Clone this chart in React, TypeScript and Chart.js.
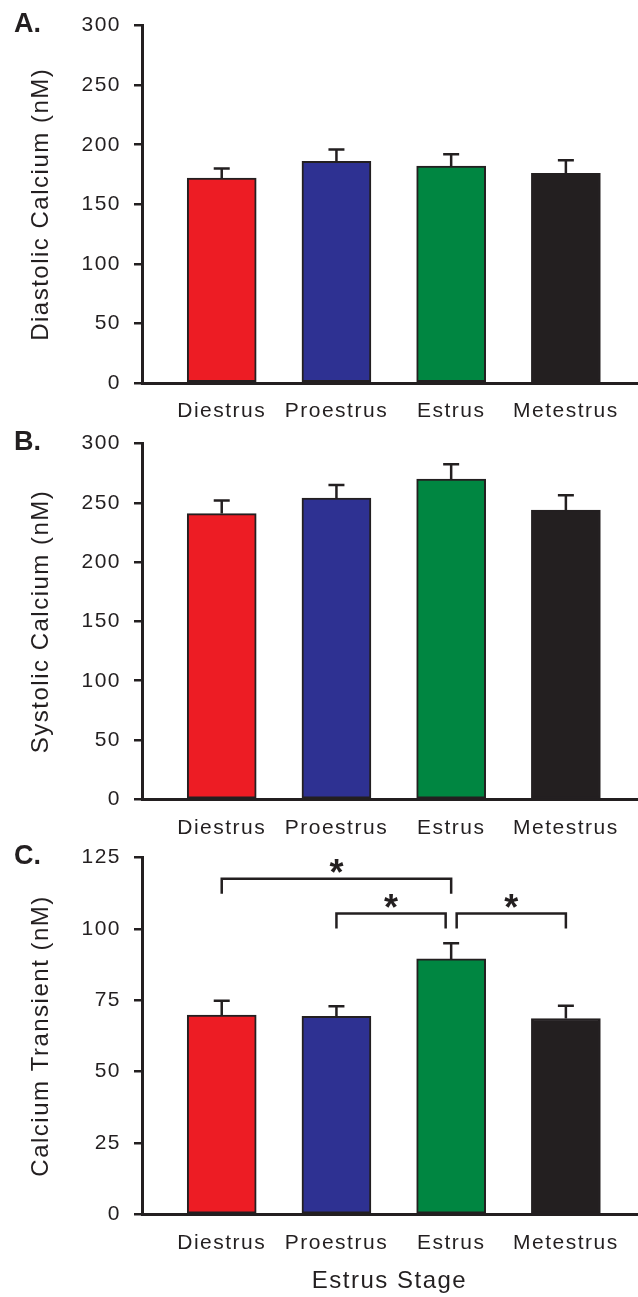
import React, { useEffect, useRef } from "react";
import { Chart, registerables } from "chart.js";

Chart.register(...registerables);

// ---------- data ----------
const CATEGORIES = ["Diestrus", "Proestrus", "Estrus", "Metestrus"];
const BAR_COLORS = ["#ed1c24", "#2e3192", "#008641", "#231f20"];

const DIASTOLIC = [172, 186, 182, 176];
const DIASTOLIC_SEM = [8, 10, 10, 11];

const SYSTOLIC = [241, 254, 270, 244];
const SYSTOLIC_SEM = [11, 11, 12.5, 12.5];

const TRANSIENT = [69.8, 69.4, 89.5, 68.6];
const TRANSIENT_SEM = [5, 3.5, 5.5, 4.5];

// significance brackets (panel C), in category units / nM
const BRACKET_START = [1, 2, 3.048];
const BRACKET_END = [3, 2.952, 4];
const BRACKET_LEVEL = [117.6, 105.4, 105.4];
const BRACKET_MARK = ["*", "*", "*"];

// ---------- style ----------
const INK = "#231f20";
const FONT = "'Liberation Sans', Arial, sans-serif";
const X_MIN = 0.305;
const X_MAX = 4.62;

type PanelCfg = {
  letter: string;
  yTitle: string;
  xTitle?: string;
  values: number[];
  sem: number[];
  yMax: number;
  step: number;
  canvasTop: number;
  canvasHeight: number;
  areaTop: number;
  areaBottom: number;
  brackets?: boolean;
};

const PANELS: PanelCfg[] = [
  {
    letter: "A.",
    yTitle: "Diastolic Calcium (nM)",
    values: DIASTOLIC,
    sem: DIASTOLIC_SEM,
    yMax: 300,
    step: 50,
    canvasTop: 0,
    canvasHeight: 440,
    areaTop: 22,
    areaBottom: 383,
  },
  {
    letter: "B.",
    yTitle: "Systolic Calcium (nM)",
    values: SYSTOLIC,
    sem: SYSTOLIC_SEM,
    yMax: 300,
    step: 50,
    canvasTop: 418,
    canvasHeight: 440,
    areaTop: 436,
    areaBottom: 799.3,
  },
  {
    letter: "C.",
    yTitle: "Calcium Transient (nM)",
    xTitle: "Estrus Stage",
    values: TRANSIENT,
    sem: TRANSIENT_SEM,
    yMax: 125,
    step: 25,
    canvasTop: 832,
    canvasHeight: 465,
    areaTop: 853.3,
    areaBottom: 1214.3,
    brackets: true,
  },
];

function makeDecor(cfg: PanelCfg) {
  return {
    id: "decor" + cfg.letter,
    beforeDraw(chart: any) {
      (chart.ctx as any).letterSpacing = "1.5px";
    },
    afterDatasetsDraw(chart: any) {
      const ctx = chart.ctx;
      const xs = chart.scales.x;
      const ys = chart.scales.y;
      const meta = chart.getDatasetMeta(0);
      ctx.save();
      ctx.strokeStyle = INK;
      ctx.lineWidth = 2.5;
      ctx.lineCap = "butt";
      // error bars (upper only)
      meta.data.forEach((el: any, i: number) => {
        const x = el.x;
        const top = el.y;
        const capY = ys.getPixelForValue(cfg.values[i] + cfg.sem[i]);
        ctx.beginPath();
        ctx.moveTo(x, top);
        ctx.lineTo(x, capY);
        ctx.moveTo(x - 8, capY);
        ctx.lineTo(x + 8, capY);
        ctx.stroke();
      });
      // significance brackets
      if (cfg.brackets) {
        ctx.font = "bold 36px " + FONT;
        (ctx as any).letterSpacing = "0px";
        ctx.fillStyle = INK;
        ctx.textAlign = "center";
        ctx.textBaseline = "alphabetic";
        BRACKET_START.forEach((s, i) => {
          const x1 = xs.getPixelForValue(s);
          const x2 = xs.getPixelForValue(BRACKET_END[i]);
          const y = ys.getPixelForValue(BRACKET_LEVEL[i]);
          ctx.beginPath();
          ctx.moveTo(x1, y + 15);
          ctx.lineTo(x1, y);
          ctx.lineTo(x2, y);
          ctx.lineTo(x2, y + 15);
          ctx.stroke();
          const m = ctx.measureText(BRACKET_MARK[i]);
          const asc = m.actualBoundingBoxAscent;
          const desc = m.actualBoundingBoxDescent;
          const cy = y - 13;
          ctx.fillText(BRACKET_MARK[i], (x1 + x2) / 2, cy + (asc - desc) / 2);
        });
      }
      // panel letter
      ctx.font = "bold 27px " + FONT;
      (ctx as any).letterSpacing = "0px";
      ctx.fillStyle = INK;
      ctx.textAlign = "left";
      ctx.textBaseline = "alphabetic";
      ctx.fillText(cfg.letter, 14, chart.chartArea.top + 6);
      ctx.restore();
    },
  };
}

function Panel({ cfg }: { cfg: PanelCfg }) {
  const ref = useRef<HTMLCanvasElement>(null);
  useEffect(() => {
    const canvas = ref.current!;
    const padTop = cfg.areaTop - cfg.canvasTop;
    const xHeight = cfg.canvasTop + cfg.canvasHeight - cfg.areaBottom;
    const chart = new Chart(canvas, {
      type: "bar",
      data: {
        datasets: [
          {
            data: cfg.values.map((v, i) => ({ x: i + 1, y: v })),
            backgroundColor: BAR_COLORS,
            borderColor: INK,
            borderWidth: 2,
            borderSkipped: false,
            barThickness: 69,
          } as any,
        ],
      },
      options: {
        responsive: false,
        animation: false,
        events: [],
        layout: { padding: { top: padTop, left: 0, right: 1, bottom: 0 } },
        plugins: {
          legend: { display: false },
          tooltip: { enabled: false },
        },
        scales: {
          x: {
            type: "linear",
            offset: false,
            min: X_MIN,
            max: X_MAX,
            grid: { display: false, drawTicks: false, offset: false },
            border: { display: true, color: INK, width: 3 },
            afterBuildTicks: (s: any) => {
              s.ticks = CATEGORIES.map((_, i) => ({ value: i + 1 }));
            },
            afterFit: (s: any) => {
              s.height = xHeight;
            },
            ticks: {
              autoSkip: false,
              maxRotation: 0,
              minRotation: 0,
              padding: 16,
              color: INK,
              font: { family: FONT, size: 21 },
              callback: (v: any) => CATEGORIES[Math.round(Number(v)) - 1] ?? "",
            },
            title: {
              display: !!cfg.xTitle,
              text: cfg.xTitle || "",
              color: INK,
              font: { family: FONT, size: 24 },
              padding: { top: 0, bottom: 1 },
            },
          },
          y: {
            min: 0,
            max: cfg.yMax,
            afterFit: (s: any) => {
              s.width = 142;
            },
            grid: {
              drawOnChartArea: false,
              drawTicks: true,
              tickLength: 8,
              color: INK,
              lineWidth: 2.5,
            },
            border: { display: true, color: INK, width: 3 },
            ticks: {
              stepSize: cfg.step,
              padding: 13,
              color: INK,
              font: { family: FONT, size: 21 },
            },
            title: {
              display: true,
              text: cfg.yTitle,
              color: INK,
              font: { family: FONT, size: 24 },
              padding: { top: 26.6, bottom: 0 },
            },
          },
        },
      } as any,
      plugins: [makeDecor(cfg)],
    });
    return () => chart.destroy();
  }, [cfg]);
  return (
    <canvas
      ref={ref}
      width={638}
      height={cfg.canvasHeight}
      style={{
        position: "absolute",
        left: 0,
        top: cfg.canvasTop,
        width: 638,
        height: cfg.canvasHeight,
        display: "block",
      }}
    />
  );
}

export default function App() {
  return (
    <div
      style={{
        position: "absolute",
        left: 0,
        top: 0,
        width: 638,
        height: 1297,
        background: "#ffffff",
        overflow: "hidden",
      }}
    >
      {PANELS.map((p) => (
        <Panel key={p.letter} cfg={p} />
      ))}
    </div>
  );
}
